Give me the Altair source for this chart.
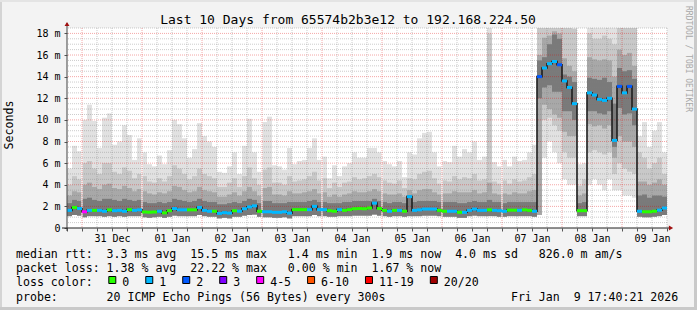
import altair as alt
import pandas as pd

MONO = "DejaVu Sans Mono"

# ---------------- data (2-hour bins) ----------------
start_time = "2025-12-30T18:00:00Z"
bin_hours = 2

# median rtt in ms, one value per bin (first row: Dec 30 18h-24h, then one row per day)
median_ms = [
    1.63, 1.9, 1.8,
    1.5, 1.63, 1.63, 1.63, 1.55, 1.68, 1.6, 1.63, 1.55, 1.7, 1.63, 1.68,
    1.48, 1.46, 1.48, 1.55, 1.4, 1.6, 1.8, 1.68, 1.68, 1.68, 1.68, 1.9,
    1.63, 1.55, 1.55, 1.35, 1.42, 1.38, 1.6, 1.55, 1.78, 1.95, 2.05, 1.55,
    1.5, 1.5, 1.45, 1.45, 1.5, 1.38, 1.7, 1.7, 1.7, 1.7, 2.0, 1.7,
    1.7, 1.6, 1.55, 1.7, 1.63, 1.7, 1.78, 1.8, 1.78, 1.85, 2.3, 1.8,
    1.63, 1.55, 1.63, 1.63, 1.55, 2.9, 1.63, 1.68, 1.75, 1.75, 1.75, 1.63,
    1.55, 1.55, 1.55, 1.45, 1.45, 1.63, 1.75, 1.63, 1.63, 1.68, 1.63, 1.6,
    1.55, 1.65, 1.65, 1.63, 1.68, 1.63, 1.55, 14.0, 14.8, 15.2, 15.4, 15.1,
    13.6, 13.0, 11.5, 1.6, 1.6, 12.5, 12.3, 11.9, 11.8, 12.0, 8.1, 13.1,
    12.5, 13.1, 11.0, 1.55, 1.5, 1.5, 1.55, 1.65, 1.85,
]

# lost pings per bin (legend class)
loss_class = [
    "1", "0", "1",
    "4-5", "1", "0", "1", "1", "0", "1", "1", "1", "0", "1", "1",
    "0", "0", "0", "1", "0", "0", "1", "1", "1", "0", "0", "1",
    "1", "1", "0", "1", "1", "1", "0", "1", "1", "1", "1", "0",
    "1", "1", "1", "1", "1", "1", "0", "0", "0", "1", "1", "1",
    "1", "0", "0", "1", "0", "0", "0", "0", "0", "0", "1", "0",
    "0", "1", "0", "1", "0", "1", "1", "1", "1", "1", "1", "0",
    "0", "1", "1", "0", "1", "1", "1", "1", "1", "0", "1", "1",
    "1", "0", "0", "1", "0", "0", "1", "2", "1", "1", "1", "2",
    "1", "1", "1", "0", "0", "1", "1", "1", "1", "1", "1", "2",
    "1", "2", "1", "1", "0", "0", "0", "1", "1",
]

# slowest ping (top of the lightest smoke)
max_ms = [
    5.5, 7.6, 7.1,
    10.0, 11.4, 9.9, 7.4, 10.2, 10.6, 7.7, 8.0, 9.5, 8.6, 6.3, 8.3,
    7.0, 5.9, 5.7, 6.7, 5.9, 7.2, 10.0, 9.6, 8.3, 6.5, 7.3, 9.7,
    8.5, 8.0, 7.5, 5.2, 5.1, 5.7, 7.0, 5.0, 7.6, 10.1, 7.0, 5.2,
    9.8, 10.3, 5.8, 5.7, 5.4, 7.4, 5.9, 6.2, 6.3, 7.4, 8.3, 6.3,
    6.6, 4.6, 5.8, 4.8, 5.7, 6.0, 7.0, 6.5, 6.5, 7.4, 7.4, 7.0,
    6.2, 5.9, 5.7, 6.2, 4.7, 7.0, 6.8, 8.3, 8.8, 8.9, 7.0, 5.7,
    6.2, 6.1, 7.6, 6.6, 7.3, 7.0, 8.0, 6.3, 6.6, 19.5, 6.1, 5.7,
    6.3, 5.7, 6.6, 6.2, 6.3, 7.0, 7.7, 19.5, 19.5, 19.5, 19.5, 19.5,
    19.5, 19.5, 19.5, 5.9, 6.0, 19.5, 19.5, 19.5, 19.5, 19.5, 19.5, 19.5,
    19.5, 19.5, 19.5, 8.5, 9.8, 7.5, 9.0, 9.8, 7.0,
]

# fastest ping (bottom of the smoke)
min_ms = [
    1.1, 1.2, 1.15,
    1.0, 1.1, 1.1, 1.1, 1.05, 1.1, 1.05, 1.1, 1.05, 1.1, 1.1, 1.1,
    1.0, 0.95, 1.0, 1.05, 0.95, 1.05, 1.15, 1.1, 1.1, 1.1, 1.1, 1.2,
    1.1, 1.05, 1.05, 0.9, 0.95, 0.9, 1.05, 1.05, 1.15, 1.2, 1.25, 1.05,
    1.0, 1.0, 0.95, 0.95, 1.0, 0.9, 1.1, 1.1, 1.1, 1.1, 1.2, 1.1,
    1.1, 1.05, 1.05, 1.1, 1.1, 1.1, 1.15, 1.15, 1.15, 1.15, 1.25, 1.15,
    1.1, 1.05, 1.1, 1.1, 1.05, 1.1, 1.1, 1.1, 1.15, 1.15, 1.15, 1.1,
    1.05, 1.05, 1.05, 0.95, 0.95, 1.1, 1.15, 1.1, 1.1, 1.1, 1.1, 1.05,
    1.05, 1.1, 1.1, 1.1, 1.1, 1.1, 1.05, 1.2, 6.5, 8.0, 7.0, 6.0,
    4.5, 4.0, 4.0, 1.1, 1.1, 4.0, 4.5, 4.0, 3.5, 4.5, 3.5, 3.5,
    3.0, 3.0, 2.8, 1.05, 1.0, 1.0, 1.05, 1.1, 1.2,
]

# tops of the three inner (darker) smoke bands
band2_hi = [
    4.0, 4.8, 4.5,
    6.0, 6.2, 5.5, 5.0, 6.0, 6.0, 5.2, 5.0, 5.6, 5.3, 4.6, 5.0,
    4.8, 4.3, 4.2, 4.6, 4.3, 4.8, 5.8, 5.5, 5.0, 4.5, 4.8, 5.5,
    5.0, 4.8, 4.6, 3.8, 3.8, 4.2, 4.6, 3.8, 4.8, 5.6, 4.6, 4.0,
    5.4, 5.6, 4.2, 4.2, 4.0, 4.8, 4.3, 4.4, 4.5, 4.8, 5.2, 4.4,
    4.6, 3.7, 4.2, 3.8, 4.2, 4.3, 4.7, 4.5, 4.6, 4.8, 5.0, 4.7,
    4.4, 4.2, 4.1, 4.4, 3.7, 4.6, 4.5, 5.0, 5.2, 5.3, 4.6, 4.1,
    4.4, 4.3, 4.8, 4.5, 4.7, 4.6, 5.0, 4.4, 4.5, 18.0, 4.3, 4.1,
    4.4, 4.1, 4.5, 4.3, 4.4, 4.7, 5.0, 19.5, 19.5, 19.5, 19.5, 19.5,
    19.0, 19.0, 18.4, 3.9, 4.5, 18.0, 17.5, 17.5, 17.8, 17.5, 17.0, 19.5,
    19.0, 19.0, 18.5, 7.0, 6.5, 5.5, 6.0, 6.5, 5.0,
]
band3_hi = [
    3.0, 3.4, 3.3,
    4.0, 4.2, 3.8, 3.6, 4.0, 4.1, 3.7, 3.6, 3.9, 3.7, 3.4, 3.6,
    3.4, 3.2, 3.1, 3.3, 3.2, 3.4, 3.9, 3.8, 3.5, 3.3, 3.4, 3.8,
    3.5, 3.4, 3.3, 2.9, 2.9, 3.1, 3.3, 3.0, 3.4, 3.8, 3.4, 3.0,
    3.7, 3.8, 3.1, 3.1, 3.0, 3.4, 3.2, 3.2, 3.3, 3.4, 3.6, 3.2,
    3.3, 2.9, 3.1, 2.9, 3.1, 3.2, 3.4, 3.3, 3.3, 3.4, 3.6, 3.4,
    3.2, 3.1, 3.1, 3.2, 2.9, 3.5, 3.2, 3.5, 3.6, 3.6, 3.3, 3.1,
    3.2, 3.2, 3.4, 3.3, 3.3, 3.3, 3.5, 3.2, 3.3, 4.2, 3.2, 3.1,
    3.2, 3.1, 3.3, 3.2, 3.2, 3.4, 3.5, 16.0, 17.6, 17.8, 18.2, 18.0,
    15.7, 15.0, 14.5, 3.0, 3.2, 15.8, 15.6, 15.5, 15.6, 15.5, 14.0, 16.5,
    16.0, 16.2, 15.0, 4.3, 4.3, 4.0, 4.2, 4.5, 4.0,
]
band4_hi = [
    2.3, 2.6, 2.5,
    2.7, 2.8, 2.6, 2.5, 2.7, 2.7, 2.6, 2.5, 2.7, 2.6, 2.5, 2.6,
    2.4, 2.3, 2.3, 2.4, 2.3, 2.4, 2.7, 2.6, 2.5, 2.4, 2.5, 2.7,
    2.5, 2.4, 2.4, 2.2, 2.2, 2.3, 2.4, 2.3, 2.5, 2.7, 2.6, 2.3,
    2.5, 2.5, 2.3, 2.3, 2.3, 2.4, 2.4, 2.4, 2.4, 2.5, 2.6, 2.4,
    2.4, 2.3, 2.3, 2.3, 2.4, 2.4, 2.5, 2.5, 2.5, 2.5, 2.7, 2.5,
    2.4, 2.3, 2.4, 2.4, 2.3, 3.0, 2.4, 2.5, 2.5, 2.5, 2.5, 2.4,
    2.4, 2.4, 2.4, 2.3, 2.3, 2.4, 2.5, 2.4, 2.4, 2.6, 2.4, 2.4,
    2.3, 2.4, 2.4, 2.4, 2.4, 2.4, 2.4, 15.5, 15.8, 17.0, 17.9, 17.5,
    14.2, 14.0, 13.5, 2.3, 2.4, 13.9, 13.8, 13.7, 13.9, 13.5, 11.5, 14.8,
    14.5, 14.6, 13.8, 3.0, 3.1, 2.8, 3.0, 3.0, 2.9,
]

# during the high-latency episode (bins 94..113) the inner bands float above the minimum
episode_first_bin = 94
episode_band2_lo = [1.2, 10.0, 10.2, 9.5, 9.0, 7.0, 6.5, 6.5, 1.1, 1.1,
                    7.0, 7.2, 7.0, 6.8, 7.0, 5.0, 6.0, 5.5, 5.2, 5.0]
episode_band3_lo = [1.2, 11.4, 11.0, 10.5, 10.2, 8.9, 8.5, 8.5, 1.1, 1.1,
                    9.6, 9.4, 9.5, 9.2, 9.5, 6.5, 8.5, 8.0, 8.0, 7.5]
episode_band4_lo = [12.0, 13.0, 13.2, 12.6, 12.6, 10.8, 10.8, 10.0, 1.1, 1.1,
                    10.8, 10.8, 10.6, 10.5, 10.8, 7.5, 11.1, 10.5, 10.6, 9.5]

# midnights where the graph shows a one-pixel data gap
data_gap_days = ["2025-12-31", "2026-01-01", "2026-01-03", "2026-01-04",
                 "2026-01-05", "2026-01-06", "2026-01-07"]

loss_labels = ["0", "1", "2", "3", "4-5", "6-10", "11-19", "20/20"]
loss_colors = ["#26ff00", "#00b8ff", "#0059ff", "#7e00ff", "#ff00ff", "#ff5500", "#ff0000", "#a00000"]

title_text = "Last 10 Days from 65574b2b3e12 to 192.168.224.50"
y_title = "Seconds"
side_text = "RRDTOOL / TOBI OETIKER"
stats_rows = [
    "median rtt:  3.3 ms avg  15.5 ms max   1.4 ms min  1.9 ms now  4.0 ms sd   826.0 m am/s",
    "packet loss: 1.38 % avg  22.22 % max   0.00 % min  1.67 % now",
]
legend_title = "loss color:"
probe_row = ("probe:       20 ICMP Echo Pings (56 Bytes) every 300s"
             "                  Fri Jan  9 17:40:21 2026")

# ---------------- build table ----------------
def iso(ts):
    return ts.strftime("%Y-%m-%dT%H:%M:%SZ")


def dt(ts):
    return alt.DateTime(year=ts.year, month=ts.month, date=ts.day, hours=ts.hour, utc=True)


def inner_lo(episode_values):
    out = list(min_ms)
    for i, v in enumerate(episode_values):
        out[episode_first_bin + i] = v
    return out


start = pd.Timestamp(start_time)
n = len(median_ms)
t0 = [start + pd.Timedelta(hours=bin_hours * k) for k in range(n)]
t1 = [t + pd.Timedelta(hours=bin_hours) for t in t0]
end = t1[-1]

df = pd.DataFrame({
    "t": [iso(t) for t in t0],
    "t2": [iso(t) for t in t1],
    "med": median_ms,
    "loss": loss_class,
    "lo1": min_ms, "hi1": max_ms,
    "lo2": inner_lo(episode_band2_lo), "hi2": band2_hi,
    "lo3": inner_lo(episode_band3_lo), "hi3": band3_hi,
    "lo4": inner_lo(episode_band4_lo), "hi4": band4_hi,
})

# ---------------- scales / axes ----------------
tick_times = [start + pd.Timedelta(hours=6 * k) for k in range(41)]
x_scale = alt.Scale(type="utc", domain=[dt(start), dt(end)], nice=False)
x_axis = alt.Axis(
    values=[dt(t) for t in tick_times],
    labelExpr="utchours(datum.value) == 12 ? utcFormat(datum.value, '%d %b') : ''",
    grid=False, domain=False, tickSize=3, tickColor="#555555",
    labelFont=MONO, labelFontSize=10, labelColor="#000000",
    labelBaseline="top", labelPadding=2, labelOverlap=False, labelFlush=False,
    title=None,
)
y_scale = alt.Scale(domain=[0, 18.5], nice=False, zero=False)
y_axis = alt.Axis(
    values=list(range(0, 19, 2)),
    labelExpr="datum.value == 0 ? '0' : datum.value + ' m'",
    grid=False, domain=False, tickSize=3, tickColor="#555555",
    labelFont=MONO, labelFontSize=10, labelColor="#000000", labelPadding=4,
    title=None,
)


def X(field):
    return alt.X(f"{field}:T", scale=x_scale, axis=x_axis)


def Y(field):
    return alt.Y(f"{field}:Q", scale=y_scale, axis=y_axis)


layers = []

# smoke
for lo, hi, col in [("lo1", "hi1", "#e1e1e1"), ("lo2", "hi2", "#c8c8c8"),
                    ("lo3", "hi3", "#a8a8a8"), ("lo4", "hi4", "#7a7a7a")]:
    layers.append(
        alt.Chart(df).mark_rect(color=col, clip=True, strokeWidth=0).encode(
            x=X("t"), x2="t2:T", y=Y(lo), y2=f"{hi}:Q")
    )

# data gaps
gap_df = pd.DataFrame({"t": [iso(pd.Timestamp(d + "T00:00:00Z")) for d in data_gap_days]})
layers.append(alt.Chart(gap_df).mark_rule(color="#ffffff", strokeWidth=1.2).encode(x=X("t")))

# grid
y_minor = [k / 2 for k in range(1, 38) if k % 4 != 0]
y_major = list(range(2, 19, 2))
x_minor = [iso(t) for t in tick_times[1:] if t.hour != 0]
x_major = [iso(t) for t in tick_times[1:] if t.hour == 0]
layers.append(alt.Chart(pd.DataFrame({"v": y_minor})).mark_rule(
    color="#808080", opacity=0.4, strokeDash=[1, 1], strokeWidth=1).encode(y=Y("v")))
layers.append(alt.Chart(pd.DataFrame({"t": x_minor})).mark_rule(
    color="#808080", opacity=0.4, strokeDash=[1, 1], strokeWidth=1).encode(x=X("t")))
layers.append(alt.Chart(pd.DataFrame({"v": y_major})).mark_rule(
    color="#e00000", opacity=0.35, strokeDash=[1, 1], strokeWidth=1).encode(y=Y("v")))
layers.append(alt.Chart(pd.DataFrame({"t": x_major})).mark_rule(
    color="#e00000", opacity=0.35, strokeDash=[1, 1], strokeWidth=1).encode(x=X("t")))

# median: dark connecting step line + loss-coloured segments
layers.append(alt.Chart(df).mark_line(interpolate="step-after", color="#1e1e1e",
                                      strokeWidth=1.6, clip=True).encode(x=X("t"), y=Y("med")))
layers.append(alt.Chart(df).mark_rule(strokeWidth=3, clip=True).encode(
    x=X("t"), x2="t2:T", y=Y("med"),
    color=alt.Color("loss:N", scale=alt.Scale(domain=loss_labels, range=loss_colors), legend=None)))

one = pd.DataFrame({"s": [""]})

# axis lines with arrows
layers.append(alt.Chart(one).mark_rule(color="#404040", strokeWidth=1).encode(
    x=alt.value(0), y=alt.value(-5), y2=alt.value(203)))
layers.append(alt.Chart(one).mark_rule(color="#202020", strokeWidth=1).encode(
    x=alt.value(-5), x2=alt.value(603), y=alt.value(200)))
layers.append(alt.Chart(one).mark_point(shape="triangle-up", filled=True, color="#a01010",
                                        size=24, opacity=1).encode(x=alt.value(0), y=alt.value(-4)))
layers.append(alt.Chart(one).mark_point(shape="triangle-right", filled=True, color="#a01010",
                                        size=24, opacity=1).encode(x=alt.value(604), y=alt.value(200)))


def text_layer(txt, x, y, size=11.58, **kw):
    d = pd.DataFrame({"s": [txt.replace(" ", "\u00a0")]})
    props = dict(font=MONO, fontSize=size, color="#000000", align="left", baseline="alphabetic")
    props.update(kw)
    return alt.Chart(d).mark_text(**props).encode(x=alt.value(x), y=alt.value(y), text="s:N")


layers.append(text_layer(title_text, 281, -4, size=13, align="center"))
layers.append(text_layer(y_title, -57, 97, size=11.58, align="center", baseline="middle", angle=270))
layers.append(text_layer(side_text, 621, 31, size=8, align="center", baseline="middle",
                         angle=90, color="#a8a8a8"))
layers.append(text_layer(stats_rows[0], -51, 229.8))
layers.append(text_layer(stats_rows[1], -51, 244.1))
layers.append(text_layer(legend_title, -51, 258.4))
layers.append(text_layer(probe_row, -51, 272.7))

# loss colour legend (boxes + labels)
char_w = 6.97
bx = 41.3
for lab, col in zip(loss_labels, loss_colors):
    layers.append(alt.Chart(one).mark_rect(color=col, stroke="#000000", strokeWidth=1).encode(
        x=alt.value(bx + 0.5), x2=alt.value(bx + 7.5), y=alt.value(248.5), y2=alt.value(255.5)))
    layers.append(text_layer(lab, bx + 14, 258.4))
    bx += 30 + char_w * len(lab)

# image frame
layers.append(alt.Chart(one).mark_rule(color="#d4d4d4", strokeWidth=2).encode(
    x=alt.value(-66), y=alt.value(-28), y2=alt.value(282)))
layers.append(alt.Chart(one).mark_rule(color="#e4e4e4", strokeWidth=2).encode(
    x=alt.value(-67), x2=alt.value(630), y=alt.value(-27)))
layers.append(alt.Chart(one).mark_rule(color="#c9c9c9", strokeWidth=3).encode(
    x=alt.value(628.5), y=alt.value(-28), y2=alt.value(282)))
layers.append(alt.Chart(one).mark_rule(color="#c9c9c9", strokeWidth=3).encode(
    x=alt.value(-67), x2=alt.value(630), y=alt.value(280.5)))

chart = alt.layer(*layers).properties(
    width=600, height=200,
    autosize=alt.AutoSizeParams(type="none"),
    padding={"left": 67, "top": 28, "right": 30, "bottom": 82},
    background="#f3f3f3",
).configure_view(fill="#ffffff", strokeWidth=0)

chart.save("out.html", embed_options={"renderer": "svg", "actions": False})
